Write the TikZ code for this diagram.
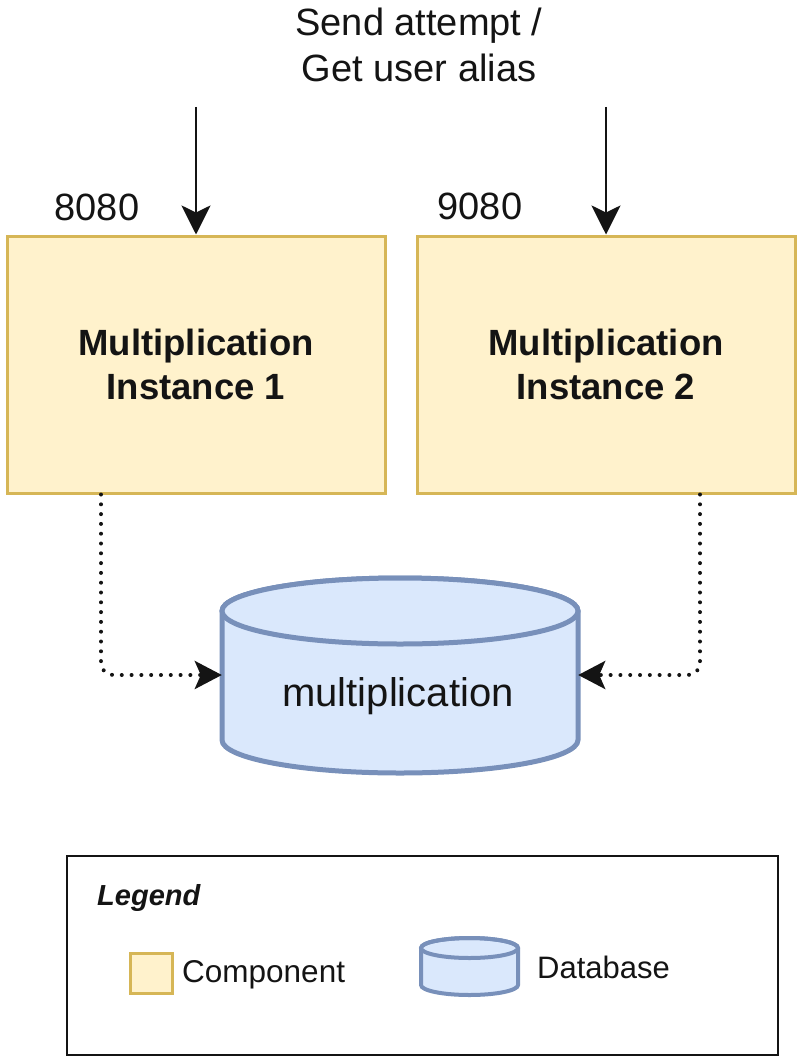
\documentclass[tikz,border=0pt]{standalone}
\usepackage{fontspec}
\setmainfont{Liberation Sans}
\usetikzlibrary{arrows.meta}
\definecolor{compfill}{HTML}{FFF2CC}
\definecolor{compdraw}{HTML}{D6B656}
\definecolor{dbfill}{HTML}{DAE8FC}
\definecolor{dbdraw}{HTML}{7890BA}
\definecolor{ink}{HTML}{141414}
\tikzset{
  comp/.style={draw=compdraw, fill=compfill, line width=3pt, minimum width=378pt, minimum height=257pt, align=center, font=\fontsize{36.5}{44}\selectfont\bfseries, text=ink, inner sep=0pt},
  lbl/.style={font=\fontsize{38}{46}\selectfont, text=ink, align=center, inner sep=0pt},
  legtxt/.style={font=\fontsize{31.5}{36}\selectfont, text=ink, inner sep=0pt, anchor=west},
  inarrow/.style={draw=ink, line width=2.6pt, -{Stealth[length=29pt,width=29pt,inset=7pt]}},
  dotconn/.style={draw=ink, line width=4pt, line cap=round, dash pattern=on 0pt off 9.8pt, rounded corners=12pt, -{Stealth[length=27pt,width=28pt,inset=6pt]}},
  dbshape/.style={draw=dbdraw, fill=dbfill, line width=5pt},
}
\begin{document}
\begin{tikzpicture}[x=1pt,y=-1pt]
\useasboundingbox (0,0) rectangle (800,1062);
% title
\node[lbl] (title) at (419,45) {Send attempt /\\Get user alias};
% components
\node[comp] (b1) at (196,364.5) {Multiplication\\Instance 1};
\node[comp] (b2) at (606,364.5) {Multiplication\\Instance 2};
\node[lbl] (p1) at (97,207) {8080};
\node[lbl] (p2) at (480,206) {9080};
% incoming arrows
\coordinate (a1) at (196,107);
\coordinate (a2) at (606,107);
\draw[inarrow] (a1) -- (b1.north);
\draw[inarrow] (a2) -- (b2.north);
% database
\filldraw[dbshape] (222,611) -- (222,740) arc[start angle=180, end angle=0, x radius=178, y radius=33] -- (578,611) arc[start angle=360, end angle=180, x radius=178, y radius=33] -- cycle;
\draw[dbshape] (400,611) ellipse[x radius=178, y radius=33];
\node[minimum width=356pt, minimum height=196pt, inner sep=0pt] (db) at (400,675) {};
\node[lbl, font=\fontsize{40}{46}\selectfont] (dbtext) at (398,696) {multiplication};
% dotted connectors
\coordinate (s1) at (101,493);
\coordinate (s2) at (700,493);
\draw[dotconn] (b1.south -| s1) |- (db.west);
\draw[dotconn] (b2.south -| s2) |- (db.east);
% legend
\node[draw=ink, line width=2.5pt, minimum width=711pt, minimum height=199pt, inner sep=0pt] (legend) at (422.5,955.5) {};
\node[legtxt, font=\fontsize{29}{34}\selectfont\bfseries\itshape] (legtitle) at (97,898) {Legend};
\node[draw=compdraw, fill=compfill, line width=3pt, minimum width=42pt, minimum height=40pt, inner sep=0pt] (legcomp) at (151,973) {};
\node[legtxt] (legcomptxt) at (182,975) {Component};
\filldraw[draw=dbdraw, fill=dbfill, line width=4pt] (421,948) -- (421,985) arc[start angle=180, end angle=0, x radius=48.5, y radius=10] -- (518,948) arc[start angle=360, end angle=180, x radius=48.5, y radius=10] -- cycle;
\draw[draw=dbdraw, line width=4pt] (469.5,948) ellipse[x radius=48.5, y radius=10];
\node[legtxt, font=\fontsize{31}{36}\selectfont] (legdbtxt) at (537,967) {Database};
\end{tikzpicture}
\end{document}
